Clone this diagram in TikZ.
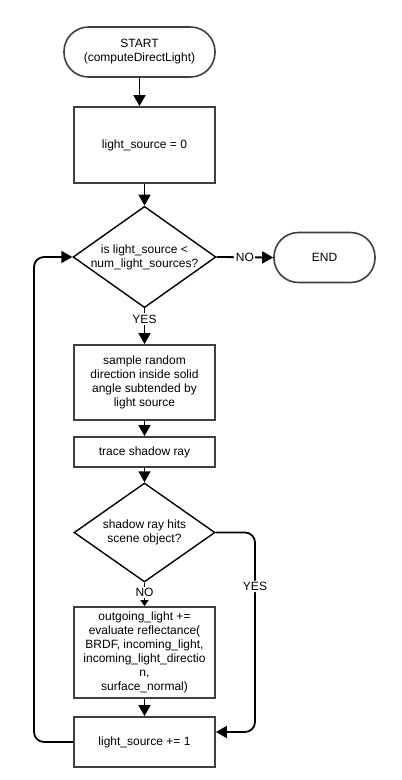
\documentclass[tikz,border=0pt]{standalone}
\usepackage{fontspec}
\setmainfont{Liberation Sans}
\usetikzlibrary{shapes.geometric,arrows.meta}
\begin{document}
\begin{tikzpicture}[x=1pt,y=-1pt,
  every node/.style={font=\fontsize{12}{14}\selectfont, align=center, inner sep=0pt},
  procbox/.style={draw=black!75, line width=1.8pt, rectangle, minimum width=141pt},
  term/.style={draw=black!75, line width=1.6pt, rectangle, rounded corners=24.5pt, minimum width=151pt, minimum height=50pt},
  decide/.style={draw=black, line width=1.4pt, diamond, aspect=1.41, minimum width=141pt, minimum height=100pt},
  conn/.style={draw=black, line width=1.8pt, -{Triangle[length=11pt,width=12pt]}},
  smallconn/.style={draw=black, line width=1.8pt, -{Triangle[length=6pt,width=8pt]}},
  lbl/.style={fill=white, inner sep=1.5pt}
]
\useasboundingbox (0,0) rectangle (402,780);
\fill[white] (0,0) rectangle (402,780);

\node[term] (start) at (139.5,52) {START\\(computeDirectLight)};
\node[procbox, minimum height=76pt] (init) at (144.5,145) {light\_source = 0};
\node[decide] (d1) at (144.5,257) {is light\_source <\\num\_light\_sources?};
\node[term, minimum width=101pt] (end) at (324.5,257.5) {END};
\node[procbox, minimum height=75pt] (sample) at (144.5,382.5) {sample random\\direction inside solid\\angle subtended by\\light source};
\node[procbox, minimum height=30pt] (trace) at (144.5,452) {trace shadow ray};
\node[decide, minimum height=99pt] (d2) at (144.5,532.5) {shadow ray hits\\scene object?};
\node[procbox, minimum height=91pt] (refl) at (144.5,652.5) {outgoing\_light +=\\evaluate reflectance(\\BRDF, incoming\_light,\\incoming\_light\_directio\\n,\\surface\_normal)};
\node[procbox, minimum height=50pt] (inc) at (144.5,742) {light\_source += 1};

\coordinate (yesc) at (255,532.5);
\coordinate (loopc) at (34,742);

\draw[conn] (start.south) -- (start.south |- init.north);
\draw[conn] (init.south -| d1.north) -- (d1.north);
\draw[conn] (d1.east) -- node[lbl] {NO} (end.west);
\draw[conn] (d1.south) -- node[lbl, pos=0.3] {YES} (sample.north);
\draw[conn] (sample.south) -- (trace.north);
\draw[conn] (trace.south) -- (d2.north);
\draw[smallconn] (d2.south) -- node[lbl, pos=0.42] {NO} (refl.north);
\draw[conn] (refl.south) -- (inc.north);
\draw[conn, rounded corners=10pt] (d2.east) -- (yesc) -- node[lbl, pos=0.27] {YES} (yesc |- 0,732) -- (inc.east |- 0,732);
\draw[conn, rounded corners=10pt] (inc.west) -- (loopc) -- (loopc |- d1.west) -- (d1.west);
\end{tikzpicture}
\end{document}
